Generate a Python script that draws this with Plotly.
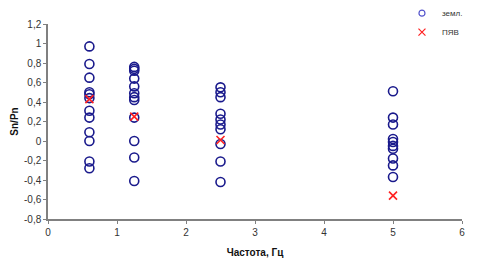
import plotly.graph_objects as go

# Data
zeml_x = [0.6]*12 + [1.25]*12 + [2.5]*10 + [5]*10
zeml_y = [0.97, 0.79, 0.65, 0.50, 0.48, 0.44, 0.31, 0.24, 0.09, 0.0, -0.21, -0.28,
          0.76, 0.74, 0.72, 0.64, 0.56, 0.49, 0.45, 0.42, 0.24, 0.0, -0.17, -0.41,
          0.55, 0.50, 0.45, 0.28, 0.22, 0.17, 0.12, -0.03, -0.21, -0.42,
          0.51, 0.24, 0.17, 0.02, -0.01, -0.05, -0.08, -0.18, -0.25, -0.37]

pyav_x = [0.6, 1.25, 2.5, 5]
pyav_y = [0.43, 0.25, 0.01, -0.56]

x_ticks = [0, 1, 2, 3, 4, 5, 6]
x_tick_labels = ["0", "1", "2", "3", "4", "5", "6"]
y_ticks = [-0.8, -0.6, -0.4, -0.2, 0, 0.2, 0.4, 0.6, 0.8, 1.0, 1.2]
y_tick_labels = ["-0,8", "-0,6", "-0,4", "-0,2", "0", "0,2", "0,4", "0,6", "0,8", "1", "1,2"]

navy = "#1a1a8c"
red = "#ff2020"

fig = go.Figure()
fig.add_trace(go.Scatter(x=zeml_x, y=zeml_y, mode="markers", showlegend=False,
                         marker=dict(symbol="circle-open", size=9, color=navy,
                                     line=dict(width=1.6, color=navy))))
fig.add_trace(go.Scatter(x=pyav_x, y=pyav_y, mode="markers", showlegend=False,
                         marker=dict(symbol="x-thin-open", size=8, color=red,
                                     line=dict(width=1.6, color=red))))
# legend entries (smaller markers)
fig.add_trace(go.Scatter(x=[None], y=[None], mode="markers", name="земл.",
                         marker=dict(symbol="circle-open", size=6, color="#5555cc",
                                     line=dict(width=1.2, color="#5555cc"))))
fig.add_trace(go.Scatter(x=[None], y=[None], mode="markers", name="ПЯВ",
                         marker=dict(symbol="x-thin-open", size=7, color=red,
                                     line=dict(width=1.2, color=red))))

axis_font = dict(family="Liberation Sans, Arial", size=10, color="#333")
fig.update_layout(
    width=479, height=271,
    margin=dict(l=48, r=17, t=24, b=52, autoexpand=False),
    paper_bgcolor="white", plot_bgcolor="white",
    font=dict(family="Liberation Sans, Arial", size=10, color="#222"),
    legend=dict(x=0.855, y=1.13, xanchor="left", yanchor="top",
                font=dict(family="Liberation Sans, Arial", size=8, color="#333"),
                itemwidth=30, tracegroupgap=0, bgcolor="rgba(0,0,0,0)"),
    xaxis=dict(range=[0, 6], tickvals=x_ticks, ticktext=x_tick_labels,
               showgrid=False, zeroline=False, showline=True, linecolor="#808080",
               linewidth=1.5, ticks="outside", ticklen=3, tickcolor="#808080",
               tickfont=axis_font,
               title=dict(text="<b>Частота, Гц</b>", font=dict(size=10, color="#111"),
                          standoff=12)),
    yaxis=dict(range=[-0.8, 1.2], tickvals=y_ticks, ticktext=y_tick_labels,
               showgrid=False, zeroline=False, showline=True, linecolor="#808080",
               linewidth=1.5, ticks="outside", ticklen=3, tickcolor="#808080",
               tickfont=axis_font,
               title=dict(text="<b>Sn/Pn</b>", font=dict(size=10, color="#111"),
                          standoff=4)),
)

fig.write_html("out.html")
